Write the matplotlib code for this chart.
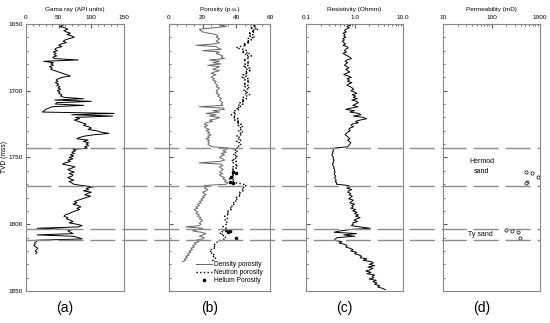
import matplotlib
matplotlib.use("Agg")
import matplotlib.pyplot as plt
import numpy as np
from matplotlib.ticker import MultipleLocator, LogLocator, NullFormatter

plt.rcParams['font.family'] = ['Liberation Sans', 'DejaVu Sans']

# gamma ray, 1 m steps from 1650 m
gr_depth = np.arange(1650, 1823)
gr = [50, 57, 52, 60, 64, 58, 62, 68, 63, 70,
      74, 66, 60, 57, 62, 54, 50, 55, 47, 44,
      48, 42, 46, 43, 47, 41, 44, 80, 27, 42,
      38, 42, 36, 40, 38, 44, 50, 56, 62, 68,
      55, 50, 46, 49, 45, 50, 47, 52, 49, 53,
      48, 52, 50, 55, 53, 58, 88, 44, 100, 47,
      45, 88, 40, 35, 30, 28, 25, 135, 70, 133,
      76, 82, 74, 80, 86, 92, 88, 96, 100, 95,
      108, 115, 127, 104, 90, 82, 78, 95, 88, 96,
      92, 96, 90, 94, 72, 76, 70, 74, 68, 73,
      66, 72, 64, 68, 60, 56, 66, 75, 70, 64,
      68, 74, 66, 72, 70, 64, 68, 73, 66, 70,
      73, 85, 104, 92, 96, 88, 100, 94, 90, 99,
      92, 86, 80, 74, 78, 72, 80, 84, 78, 82,
      76, 70, 66, 60, 58, 64, 62, 68, 72, 66,
      78, 86, 80, 17, 70, 64, 68, 72, 17, 73,
      80, 86, 15, 16, 13, 14, 12, 15, 18, 16,
      14, 17, 15]

# porosity logs, 1 m steps from 1650 m
por_depth = np.arange(1650, 1829)
dens_por = [40, 30, 34, 26, 18, 19, 20, 24, 28, 29,
            28, 30, 29, 28, 30, 27, 16, 28, 29, 31,
            20, 30, 28, 30, 32, 31, 33, 24, 30, 26,
            31, 23, 30, 28, 26, 30, 27, 25, 28, 26,
            25, 27, 26, 28, 27, 28, 29, 28, 30, 29,
            28, 29, 28, 30, 29, 30, 31, 30, 31, 32,
            31, 32, 18, 32, 33, 26, 30, 22, 28, 24,
            30, 28, 24, 26, 22, 21, 23, 21, 22, 24,
            22, 24, 23, 25, 23, 24, 22, 24, 23, 24,
            23, 24, 26, 36, 34, 32, 34, 31, 33, 31,
            30, 32, 33, 30, 18, 31, 32, 30, 31, 32,
            31, 30, 32, 30, 31, 33, 32, 34, 33, 35,
            34, 21, 22, 21, 23, 22, 20, 21, 22, 20,
            21, 19, 20, 18, 19, 17, 18, 16, 17, 15,
            16, 17, 16, 18, 17, 19, 18, 20, 19, 18,
            19, 18, 10, 20, 17, 14, 19, 22, 20, 18,
            21, 20, 16, 18, 15, 16, 14, 15, 13, 14,
            12, 13, 11, 12, 10, 11, 9, 10, 8]
neut_por = [44, 50, 52, 48, 53, 49, 51, 47, 50, 48,
            51, 47, 49, 46, 48, 44, 46, 42, 40, 44,
            46, 43, 48, 45, 49, 46, 47, 44, 46, 48,
            45, 47, 44, 48, 46, 49, 45, 47, 44, 46,
            43, 47, 45, 48, 46, 44, 47, 45, 48, 46,
            44, 47, 45, 48, 46, 44, 46, 43, 45, 42,
            44, 41, 43, 40, 42, 39, 38, 40, 37, 39,
            38, 41, 39, 42, 40, 43, 41, 44, 42, 43,
            41, 44, 42, 43, 40, 42, 41, 43, 40, 42,
            43, 41, 42, 40, 38, 41, 39, 40, 38, 41,
            39, 40, 37, 40, 38, 39, 41, 38, 40, 37,
            39, 38, 40, 37, 39, 38, 36, 39, 38, 40,
            44, 46, 44, 45, 43, 44, 42, 43, 41, 42,
            40, 41, 39, 40, 38, 39, 37, 38, 36, 37,
            35, 36, 34, 35, 33, 34, 35, 33, 34, 35,
            34, 33, 32, 34, 33, 31, 32, 30, 33, 32,
            34, 33, 31, 29, 28, 27, 28, 26, 27, 25,
            24, 26, 25, 27, 26, 28, 27, 26, 27]

# core samples
core_depth = [1761, 1762, 1765, 1768, 1769, 1804, 1805, 1806, 1810]
he_por = [38, 40, 37, 36, 38, 34, 36, 35, 40]
perm = [515, 675, 922, 530, 520, 199, 262, 356, 387]

# resistivity, 1 m steps from 1650 m
res_depth = np.arange(1650, 1850)
res = [0.75, 0.82, 0.70, 0.78, 0.66, 0.62, 0.68, 0.58, 0.64, 0.60,
       0.66, 0.57, 0.62, 0.56, 0.60, 0.65, 0.58, 0.70, 0.74, 0.66,
       0.62, 0.68, 0.58, 0.64, 0.72, 0.80, 0.86, 0.70, 0.64, 0.72,
       0.66, 0.62, 0.70, 0.76, 0.66, 0.72, 0.80, 0.68, 0.60, 0.74,
       0.86, 0.70, 0.78, 0.72, 0.88, 0.76, 0.70, 0.82, 0.90, 0.96,
       0.84, 1.00, 1.11, 0.90, 1.05, 0.95, 1.15, 0.88, 1.10, 1.20,
       1.05, 0.92, 1.18, 0.85, 0.66, 1.00, 0.80, 1.20, 1.35, 0.95,
       1.50, 1.78, 1.30, 1.05, 1.20, 0.90, 0.85, 0.95, 0.80, 0.76,
       0.82, 0.72, 0.68, 0.64, 0.70, 0.75, 0.80, 0.72, 0.78, 0.84,
       0.80, 0.76, 0.72, 0.38, 0.36, 0.37, 0.35, 0.36, 0.34, 0.35,
       0.37, 0.36, 0.38, 0.36, 0.37, 0.35, 0.36, 0.38, 0.37, 0.39,
       0.38, 0.40, 0.38, 0.39, 0.41, 0.39, 0.40, 0.42, 0.40, 0.43,
       0.42, 0.75, 0.82, 0.70, 0.88, 0.76, 0.72, 0.84, 0.78, 0.90,
       0.82, 0.76, 0.95, 0.86, 0.80, 1.00, 0.88, 0.94, 0.84, 1.05,
       0.92, 1.12, 1.00, 1.20, 1.05, 1.30, 1.10, 0.98, 1.15, 0.92,
       0.94, 0.86, 1.30, 2.10, 0.80, 0.50, 0.38, 1.10, 0.60, 1.00,
       0.44, 0.40, 0.38, 0.55, 0.48, 0.62, 0.70, 0.66, 0.80, 0.94,
       0.84, 1.10, 1.00, 1.25, 1.40, 1.30, 1.80, 1.50, 2.20, 2.45,
       2.00, 2.60, 1.90, 2.40, 2.10, 1.70, 2.20, 1.80, 2.60, 2.30,
       2.50, 2.00, 2.80, 2.40, 2.90, 2.60, 3.30, 3.00, 3.80, 4.30]

# zone boundaries
tops = [1743, 1771, 1803.5, 1812]

fig = plt.figure(figsize=(5.5, 3.23), dpi=100)
bot, h = 0.099, 0.827
ax_a = fig.add_axes([0.0473, bot, 0.178, h])
ax_b = fig.add_axes([0.3073, bot, 0.1836, h])
ax_c = fig.add_axes([0.5564, bot, 0.1764, h])
ax_d = fig.add_axes([0.8055, bot, 0.1764, h])
axes = [ax_a, ax_b, ax_c, ax_d]

ax_a.plot(gr, gr_depth, color='black', lw=0.7)
ax_a.set_xlim(0, 150)
ax_a.xaxis.set_major_locator(MultipleLocator(50))
ax_a.xaxis.set_minor_locator(MultipleLocator(10))
ax_a.set_xlabel('Gama ray (API units)')
ax_a.set_ylabel('TVD (mss)')
ax_a.yaxis.set_label_coords(-0.185, 0.5)

ax_b.plot(dens_por, por_depth, color='#666666', lw=0.7, label='Density porosity')
ax_b.plot(neut_por, por_depth, color='black', lw=1.0, ls=':', label='Neutron porosity')
ax_b.plot(he_por, core_depth, 'o', color='black', ms=1.6, label='Helium Porosity')
ax_b.set_xlim(0, 60)
ax_b.xaxis.set_major_locator(MultipleLocator(20))
ax_b.xaxis.set_minor_locator(MultipleLocator(5))
ax_b.set_xlabel('Porosity (p.u.)')
ax_b.legend(loc='lower right', frameon=False, fontsize=4.8, handlelength=2.4,
            handletextpad=0.4, labelspacing=0.15, borderaxespad=0.6)

ax_c.plot(res, res_depth, color='black', lw=0.7)
ax_c.set_xscale('log')
ax_c.set_xlim(0.1, 10)
ax_c.set_xticks([0.1, 1, 10])
ax_c.set_xticklabels(['0.1', '1.0', '10.0'])
ax_c.set_xlabel('Resistivity (Ohmm)')

ax_d.plot(perm, core_depth, 'o', mfc='white', mec='black', mew=0.5, ms=2.3)
ax_d.set_xscale('log')
ax_d.set_xlim(10, 1000)
ax_d.set_xticks([10, 100, 1000])
ax_d.set_xticklabels(['10', '100', '1000'])
ax_d.set_xlabel('Permeability (mD)')
ax_d.text(63, 1757, 'Hermod\nsand', ha='center', va='center', fontsize=5,
          linespacing=1.6)
ax_d.text(58, 1807.5, 'Ty sand', ha='center', va='center', fontsize=5)

for ax in axes:
    ax.set_ylim(1850, 1650)
    ax.xaxis.set_ticks_position('top')
    ax.xaxis.set_label_position('top')
    ax.xaxis.label.set_size(4.6)
    ax.yaxis.label.set_size(4.8)
    ax.xaxis.labelpad = 3
    ax.yaxis.set_major_locator(MultipleLocator(50))
    ax.yaxis.set_minor_locator(MultipleLocator(10))
    ax.tick_params(which='both', direction='in', labelsize=4.6, color='#555555', pad=3)
    ax.tick_params(axis='y', which='both', pad=2)
    ax.tick_params(which='major', length=3)
    ax.tick_params(which='minor', length=1.5)
    if ax is not ax_a:
        ax.tick_params(axis='y', labelleft=False)
    for s in ax.spines.values():
        s.set_color('#888888')
        s.set_linewidth(0.8)
for ax in [ax_c, ax_d]:
    ax.xaxis.set_minor_locator(LogLocator(subs=np.arange(2, 10)))
    ax.xaxis.set_minor_formatter(NullFormatter())

# dashed zone lines across all tracks
over = fig.add_axes([0.0473, bot, 0.982 - 0.0473, h])
over.set_ylim(1850, 1650)
over.set_xlim(0, 1)
over.axis('off')
over.patch.set_alpha(0)
for t in tops:
    over.axhline(t, color='#8c8c8c', lw=1.0, dashes=(18, 5))

for ax, lab in zip(axes, ['(a)', '(b)', '(c)', '(d)']):
    p = ax.get_position()
    fig.text(p.x0 + p.width / 2 - 0.018, 0.045, lab, ha='center', va='center', fontsize=10)

fig.savefig('out.png', dpi=100)
